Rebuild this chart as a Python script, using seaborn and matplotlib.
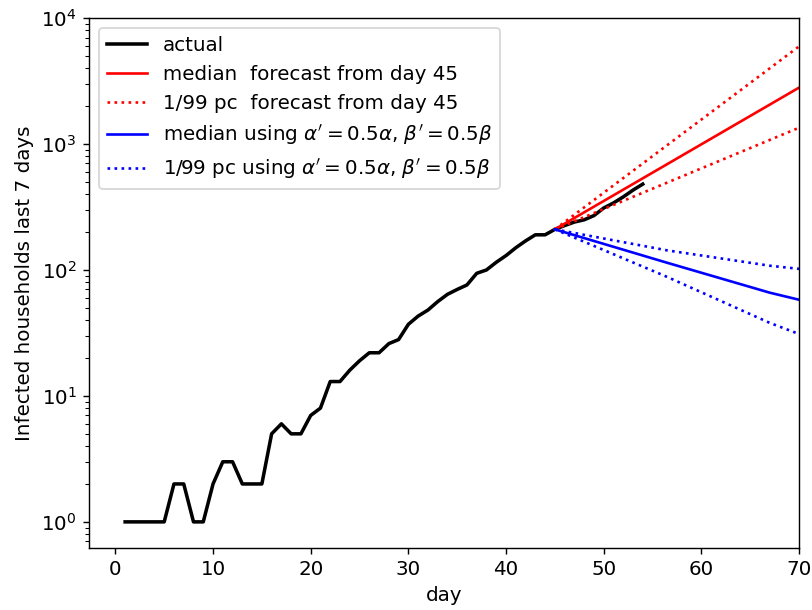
import numpy as np
import pandas as pd
import matplotlib
matplotlib.use('Agg')
import matplotlib.pyplot as plt
import seaborn as sns

plt.rcParams['font.size'] = 11.3

# -----------------------
# data

actual_days = list(range(1, 55))
actual_vals = [1, 1, 1, 1, 1, 2, 2, 1, 1, 2,
               3, 3, 2, 2, 2, 5, 6, 5, 5, 7,
               8, 13, 13, 16, 19, 22, 22, 26, 28, 37,
               43, 48, 56, 64, 70, 76, 94, 100, 115, 130,
               150, 170, 190, 190, 210, 225, 240, 250, 270, 310,
               340, 380, 430, 480]

fc_days = [45, 70]
fc_median = [210, 2800]
fc_upper = [210, 5950]
fc_lower = [210, 1345]

half_days = [45, 56.5, 67, 70]
half_median = [210, 114, 66, 58]
half_upper = [210, 143, 108, 102]
half_lower = [210, 88, 38, 31]

# -----------------------

fig, ax = plt.subplots(figsize=(812/127, 610/127), dpi=127)

sns.lineplot(x=actual_days, y=actual_vals, color='black', lw=2, label='actual', ax=ax)

sns.lineplot(x=fc_days, y=fc_median, color='red', lw=1.5,
	label='median  forecast from day 45', ax=ax)
sns.lineplot(x=fc_days, y=fc_upper, color='red', lw=1.5, ls=':',
	label='1/99 pc  forecast from day 45', ax=ax)
sns.lineplot(x=fc_days, y=fc_lower, color='red', lw=1.5, ls=':', ax=ax)

sns.lineplot(x=half_days, y=half_median, color='blue', lw=1.5,
	label=r"median using $\alpha'=0.5\alpha$, $\beta'=0.5\beta$", ax=ax)
sns.lineplot(x=half_days, y=half_upper, color='blue', lw=1.5, ls=':',
	label=r"1/99 pc using $\alpha'=0.5\alpha$, $\beta'=0.5\beta$", ax=ax)
sns.lineplot(x=half_days, y=half_lower, color='blue', lw=1.5, ls=':', ax=ax)

ax.set_yscale('log')
ax.set_xlim(-2.7, 70)
ax.set_ylim(0.62, 1e4)
ax.set(xlabel='day', ylabel='Infected households last 7 days')
ax.legend(loc='upper left')

plt.subplots_adjust(left=0.1096, right=0.984, top=0.9705, bottom=0.1016)
plt.savefig('out.png', dpi=127)
